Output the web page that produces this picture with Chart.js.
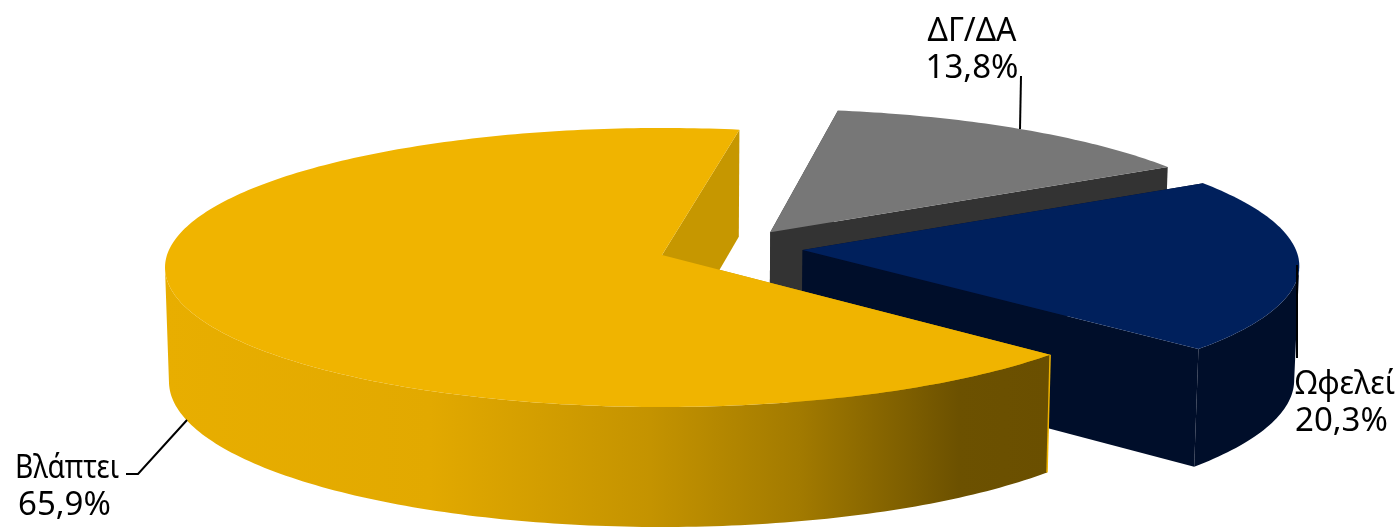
<!DOCTYPE html>
<html lang="el">
<head>
<meta charset="utf-8">
<title>Βλάπτει / Ωφελεί</title>
<script src="https://cdn.jsdelivr.net/npm/chart.js@4/dist/chart.umd.min.js"></script>
<style>
  html, body { margin: 0; padding: 0; background: #fff; }
  canvas { display: block; }
</style>
</head>
<body>
<canvas id="pie" width="1400" height="528"></canvas>
<script>
// ---------------------------------------------------------------------------
// Data
// ---------------------------------------------------------------------------

const categories = ['ΔΓ/ΔΑ', 'Ωφελεί', 'Βλάπτει'];
const shares     = [13.8, 20.3, 65.9];
const topColors  = ['#777777', '#00205c', '#f0b400'];
const sideColors = ['#333333', '#000e2a', '#c69700'];

// ---------------------------------------------------------------------------
// Perspective pie: the arc elements keep the angles, the plugin projects them
// ---------------------------------------------------------------------------

const view = { cx: 662, cy: 255, rx: 495, ry: 138.4, k: 0.0896, depth: 113.5, depthTilt: 6.5, floorScale: 0.992 };

// how far each slice is pulled out, in units of the radius
const explode = [[0.222, -0.167], [0.285, -0.036], [0, 0]];

// text anchor + leader line for each slice
const labelLayout = [
  { x: 972,  y: 41,  align: 'center', nameWidth: 89,  leader: [[1021, 76], [1020, 129]] },
  { x: 1295, y: 394, align: 'left',   nameWidth: 100, leader: [[1297, 265], [1297, 358]] },
  { x: 15,   y: 478, align: 'left',   nameWidth: 104, shift: 3, leader: [[187, 420], [138, 474], [126, 474]] }
];

function project(u, v, lowered) {
  const w = 1 / (1 - view.k * v);
  return [
    view.cx + view.rx * u * w * (lowered ? view.floorScale : 1),
    view.cy + view.ry * v * w + (lowered ? view.depth + view.depthTilt * v : 0)
  ];
}

function fillPath(ctx, points, color) {
  ctx.beginPath();
  points.forEach(function (p, i) {
    if (i === 0) ctx.moveTo(p[0], p[1]);
    else ctx.lineTo(p[0], p[1]);
  });
  ctx.closePath();
  ctx.fillStyle = color;
  ctx.fill();
}

function wallGradient(ctx) {
  const g = ctx.createLinearGradient(165, 0, 1047, 0);
  g.addColorStop(0, '#e8ae00');
  g.addColorStop(0.3, '#e2a900');
  g.addColorStop(0.55, '#c49300');
  g.addColorStop(0.72, '#a27a00');
  g.addColorStop(0.9, '#6c5100');
  g.addColorStop(1, '#6a4f00');
  return g;
}

function drawSlice(ctx, arc, i) {
  const ex = explode[i][0];
  const ey = explode[i][1];
  const a0 = arc.startAngle;
  const a1 = arc.endAngle;
  const steps = Math.ceil((a1 - a0) * 60);
  const angles = [];
  for (let s = 0; s <= steps; s++) angles.push(a0 + (a1 - a0) * s / steps);

  const at = function (a, lowered) {
    return project(ex + Math.cos(a), ey + Math.sin(a), lowered);
  };
  const hub = function (lowered) { return project(ex, ey, lowered); };

  // cut faces
  [a0, a1].forEach(function (a) {
    fillPath(ctx, [hub(false), at(a, false), at(a, true), hub(true)], sideColors[i]);
  });

  // outer wall, only the part that faces the viewer
  const front = angles.filter(function (a) { return Math.sin(a) > 0.1; });
  if (front.length > 1) {
    const wall = front.map(function (a) { return at(a, false); })
      .concat(front.slice().reverse().map(function (a) { return at(a, true); }));
    fillPath(ctx, wall, i === 2 ? wallGradient(ctx) : sideColors[i]);
    if (i === 2) {
      // thin light edge where the wall stops
      const p = at(a0, false);
      const q = at(a0, true);
      ctx.strokeStyle = topColors[i];
      ctx.lineWidth = 1.5;
      ctx.beginPath();
      ctx.moveTo(p[0], p[1]);
      ctx.lineTo(q[0], q[1]);
      ctx.stroke();
    }
  }

  // top face
  const top = [hub(false)].concat(angles.map(function (a) { return at(a, false); }));
  fillPath(ctx, top, topColors[i]);
}

function drawLabel(ctx, i) {
  const layout = labelLayout[i];
  ctx.strokeStyle = '#000';
  ctx.lineWidth = 2;
  ctx.beginPath();
  layout.leader.forEach(function (p, n) {
    if (n === 0) ctx.moveTo(p[0], p[1]);
    else ctx.lineTo(p[0], p[1]);
  });
  ctx.stroke();

  ctx.font = '33px "Noto Sans"';
  ctx.fillStyle = '#000';
  ctx.textAlign = layout.align;
  ctx.textBaseline = 'alphabetic';
  ctx.fillText(categories[i], layout.x, layout.y, layout.nameWidth);
  const pct = shares[i].toFixed(1).replace('.', ',') + '%';
  ctx.fillText(pct, layout.x + (layout.shift || 0), layout.y + 37);
}

const perspectivePie = {
  id: 'perspectivePie',
  beforeDatasetDraw: function (chart) {
    const ctx = chart.ctx;
    const arcs = chart.getDatasetMeta(0).data;
    ctx.save();
    arcs.forEach(function (arc, i) { drawSlice(ctx, arc, i); });
    arcs.forEach(function (arc, i) { drawLabel(ctx, i); });
    ctx.restore();
    return false;
  }
};

// ---------------------------------------------------------------------------
// Boot
// ---------------------------------------------------------------------------

new Chart(document.getElementById('pie').getContext('2d'), {
  type: 'pie',
  data: {
    labels: categories,
    datasets: [{ data: shares, backgroundColor: topColors, borderWidth: 0 }]
  },
  options: {
    responsive: false,
    animation: false,
    rotation: 9.8,
    plugins: { legend: { display: false }, tooltip: { enabled: false } }
  },
  plugins: [perspectivePie]
});
</script>
</body>
</html>
